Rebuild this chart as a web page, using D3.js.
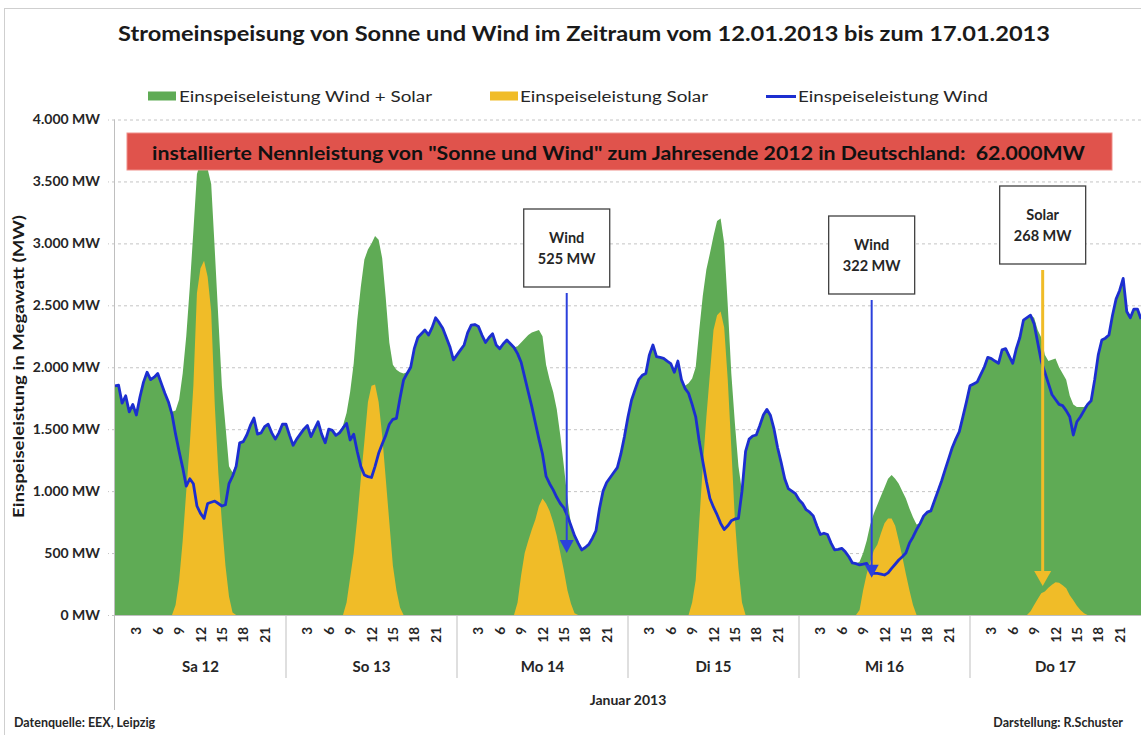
<!DOCTYPE html>
<html><head><meta charset="utf-8">
<script src="https://cdn.jsdelivr.net/npm/d3@7"></script>
<style>
body{margin:0;background:#fff;}
svg{display:block;font-family:Lato,"Open Sans",sans-serif;}
</style>
</head><body>
<svg id="chart" width="1141" height="735"></svg>
<script>
// ---- Data: half-hourly values, Sa 12.01.2013 00:00 .. Fr 18.01.2013 00:00 (289 points) ----
const wind = [
1850,1855,1710,1770,1640,1700,1615,1760,1880,1960,
1900,1920,1950,1870,1790,1720,1620,1460,1320,1190,
1040,1100,1060,880,820,780,900,910,920,900,
880,890,1060,1120,1200,1390,1400,1453,1530,1590,
1460,1470,1520,1540,1470,1420,1470,1540,1540,1450,
1370,1420,1460,1500,1530,1440,1500,1560,1460,1390,
1500,1490,1450,1470,1510,1547,1413,1460,1320,1200,
1130,1117,1110,1200,1305,1380,1450,1540,1580,1588,
1750,1897,1950,2000,2150,2240,2270,2301,2260,2320,
2400,2360,2314,2240,2166,2060,2100,2140,2180,2280,
2340,2345,2330,2260,2200,2240,2270,2180,2150,2190,
2220,2190,2160,2110,2040,1920,1800,1682,1550,1420,
1300,1120,1060,1010,950,900,865,800,720,640,
580,525,545,570,620,680,860,1000,1070,1110,
1150,1190,1300,1440,1600,1736,1820,1900,1935,1950,
2100,2180,2086,2080,2072,2050,2030,1960,2050,1900,
1830,1790,1700,1600,1400,1240,1080,940,870,810,
740,690,720,760,775,780,1000,1320,1420,1445,
1453,1530,1615,1660,1610,1500,1350,1230,1100,1020,
1000,980,930,900,850,830,800,720,650,660,
650,580,525,530,538,510,470,420,415,404,
410,417,360,336,336,330,323,340,377,410,
444,470,500,580,630,690,740,800,830,840,
920,1000,1080,1171,1260,1350,1420,1480,1600,1720,
1850,1865,1880,1940,2000,2080,2070,2050,2032,2140,
2150,2090,2032,2150,2240,2380,2400,2420,2350,2200,
2050,1960,1870,1780,1740,1700,1690,1650,1600,1453,
1560,1600,1650,1700,1730,1900,2100,2220,2235,2260,
2420,2550,2620,2718,2450,2400,2470,2470,2390
];
const solar = [
0,0,0,0,0,0,0,0,0,0,
0,0,0,0,0,0,0,80,280,600,
1000,1380,1850,2600,2800,2860,2730,2450,1700,1150,
750,400,150,20,0,0,0,0,0,0,
0,0,0,0,0,0,0,0,0,0,
0,0,0,0,0,0,0,0,0,0,
0,0,0,0,0,100,300,500,780,1100,
1400,1720,1850,1860,1720,1450,1100,750,400,200,
60,0,0,0,0,0,0,0,0,0,
0,0,0,0,0,0,0,0,0,0,
0,0,0,0,0,0,0,0,0,0,
0,0,0,100,320,500,600,690,770,880,
940,900,840,750,640,500,360,200,90,15,
0,0,0,0,0,0,0,0,0,0,
0,0,0,0,0,0,0,0,0,0,
0,0,0,0,0,0,0,0,0,0,
0,0,100,280,750,1200,1600,1950,2300,2420,
2450,2320,1900,1350,770,380,100,0,0,0,
0,0,0,0,0,0,0,0,0,0,
0,0,0,0,0,0,0,0,0,0,
0,0,0,0,0,0,0,0,0,40,
200,330,430,520,570,660,740,780,780,720,
600,470,330,200,80,0,0,0,0,0,
0,0,0,0,0,0,0,0,0,0,
0,0,0,0,0,0,0,0,0,0,
0,0,0,0,0,0,0,30,80,130,
175,190,220,245,265,260,240,215,160,120,
75,40,15,0,0,0,0,0,0,0,
0,0,0,0,0,0,0,0,0
];
const total = [
1850,1855,1710,1770,1640,1700,1615,1760,1880,1960,
1900,1920,1950,1870,1790,1720,1640,1650,1740,1950,
2250,2650,3100,3560,3650,3680,3600,3480,2950,2400,
1850,1530,1200,1150,1220,1390,1400,1453,1530,1590,
1460,1470,1520,1540,1470,1420,1470,1540,1540,1450,
1370,1420,1460,1500,1530,1440,1500,1560,1460,1390,
1500,1490,1450,1470,1530,1630,1800,2030,2380,2650,
2870,2950,3000,3060,3030,2880,2560,2200,2020,1980,
1960,1950,1960,2000,2150,2240,2270,2301,2260,2320,
2400,2360,2314,2240,2166,2060,2100,2140,2180,2280,
2340,2345,2330,2260,2200,2240,2270,2180,2150,2190,
2220,2190,2160,2170,2200,2230,2260,2280,2290,2300,
2250,2020,1900,1800,1660,1450,1200,940,730,640,
580,525,545,570,620,680,860,1000,1070,1110,
1150,1190,1300,1440,1600,1736,1820,1900,1935,1950,
2100,2180,2086,2080,2072,2050,2030,1960,2050,1900,
1850,1870,1910,2000,2300,2580,2790,2920,3060,3180,
3200,3000,2500,1950,1550,1200,1000,1320,1420,1445,
1453,1530,1615,1660,1610,1500,1350,1230,1100,1020,
1000,980,930,900,850,830,800,720,650,660,
650,580,525,530,538,510,470,420,415,430,
500,600,730,820,890,960,1030,1100,1130,1100,
1060,1000,940,860,790,730,740,800,830,840,
920,1000,1080,1171,1260,1350,1420,1480,1600,1720,
1850,1865,1880,1940,2000,2080,2070,2050,2032,2140,
2150,2090,2032,2150,2240,2380,2400,2420,2400,2300,
2240,2100,2050,2060,2070,2000,1950,1900,1770,1700,
1680,1680,1680,1710,1740,1900,2100,2220,2235,2260,
2420,2550,2620,2718,2450,2400,2470,2470,2390
];
const days = ["Sa 12","So 13","Mo 14","Di 15","Mi 16","Do 17"];
const hourTicks = [3,6,9,12,15,18,21];
const yTicks = [0,500,1000,1500,2000,2500,3000,3500,4000];
const seriesNames = ["Einspeiseleistung Wind + Solar","Einspeiseleistung Solar","Einspeiseleistung Wind"];
const annotations = [
  {lines:["Wind","525 MW"], hour:63.4, tip:500, top:209, kind:"wind"},
  {lines:["Wind","322 MW"], hour:106.2, tip:300, top:216, kind:"wind"},
  {lines:["Solar","268 MW"], hour:130.2, tip:235, top:186, kind:"solar"}
];
const titleText = "Stromeinspeisung von Sonne und Wind im Zeitraum vom 12.01.2013 bis zum 17.01.2013";
const bannerText = "installierte Nennleistung von \"Sonne und Wind\" zum Jahresende 2012 in Deutschland:  62.000MW";

// ---- Styles ----
const C = {green:"#5fab55", yellow:"#f0bc28", blue:"#1c2ed0", arrowBlue:"#2b40dc",
           grid:"#c4c4c4", axis:"#bfbfbf", text:"#262626", red:"#e0534c"};

const svg = d3.select("#chart");
const x = d3.scaleLinear().domain([0,144]).range([115,1141]);
const y = d3.scaleLinear().domain([0,4000]).range([615,119.5]);
const loc = d3.formatLocale({decimal:",", thousands:".", grouping:[3], currency:["","€"]});
const fmt = loc.format(",");

// outer frame
svg.append("rect").attr("x",4.5).attr("y",8.5).attr("width",1160).attr("height",780)
  .attr("fill","none").attr("stroke","#cfcfcf");

// title
svg.append("text").attr("x",118).attr("y",41).attr("textLength",932).attr("lengthAdjust","spacingAndGlyphs")
  .attr("font-size",20.5).attr("font-weight",700).attr("fill","#1a1a1a").text(titleText);

// legend
const lg = svg.append("g").attr("font-size",15.5).attr("fill",C.text);
lg.append("rect").attr("x",148).attr("y",91.5).attr("width",28).attr("height",9).attr("fill",C.green);
lg.append("text").attr("x",179).attr("y",101.5).attr("textLength",253).attr("lengthAdjust","spacingAndGlyphs").text(seriesNames[0]);
lg.append("rect").attr("x",490).attr("y",91.5).attr("width",28).attr("height",9).attr("fill",C.yellow);
lg.append("text").attr("x",520).attr("y",101.5).attr("textLength",188).attr("lengthAdjust","spacingAndGlyphs").text(seriesNames[1]);
lg.append("line").attr("x1",766).attr("x2",796).attr("y1",96.5).attr("y2",96.5).attr("stroke",C.blue).attr("stroke-width",3);
lg.append("text").attr("x",798).attr("y",101.5).attr("textLength",190).attr("lengthAdjust","spacingAndGlyphs").text(seriesNames[2]);

// gridlines
const grid = svg.append("g").attr("transform","translate(1141,0)")
  .call(d3.axisLeft(y).tickValues(yTicks).tickSize(1033).tickFormat(""));
grid.select(".domain").remove();
grid.selectAll("line").attr("stroke",C.grid).attr("stroke-dasharray","3,3");

// y labels
const yl = svg.append("g").attr("transform","translate(108,0)")
  .call(d3.axisLeft(y).tickValues(yTicks).tickSize(0).tickPadding(8).tickFormat(d => fmt(d)+" MW"));
yl.select(".domain").remove();
yl.selectAll("text").attr("font-family","Lato, sans-serif").attr("font-size",14).attr("font-weight",700).attr("fill",C.text);

// y-axis title
svg.append("text").attr("transform","translate(24,366.5) rotate(-90)").attr("text-anchor","middle")
  .attr("font-size",14.5).attr("font-weight",700).attr("fill","#1a1a1a")
  .attr("textLength",303).attr("lengthAdjust","spacingAndGlyphs")
  .text("Einspeiseleistung in Megawatt (MW)");

// areas
const xi = (d,i) => x(i/2);
const areaGen = d3.area().x(xi).y0(y(0)).y1(d=>y(d));
svg.append("path").datum(total).attr("d",areaGen).attr("fill",C.green);
svg.append("path").datum(solar).attr("d",areaGen).attr("fill",C.yellow);
const lineGen = d3.line().x(xi).y(d=>y(d));
svg.append("path").datum(wind).attr("d",lineGen).attr("fill","none")
  .attr("stroke",C.blue).attr("stroke-width",2.8).attr("stroke-linejoin","round");

// axes lines
svg.append("line").attr("x1",115).attr("x2",1141).attr("y1",615.5).attr("y2",615.5).attr("stroke",C.axis);
svg.append("line").attr("x1",114.5).attr("x2",114.5).attr("y1",119.5).attr("y2",710).attr("stroke",C.axis);
days.forEach((d,i)=>{
  if(i>0) svg.append("line").attr("x1",x(i*24)).attr("x2",x(i*24)).attr("y1",615).attr("y2",678).attr("stroke",C.axis);
  hourTicks.forEach(h=>{
    svg.append("text").attr("transform",`translate(${x(i*24+h)},627) rotate(-90)`)
      .attr("text-anchor","end").attr("dominant-baseline","central")
      .attr("font-size",13.5).attr("font-weight",700).attr("fill",C.text).text(h);
  });
  svg.append("text").attr("x",x(i*24+12)).attr("y",672).attr("text-anchor","middle")
    .attr("font-size",15).attr("font-weight",700).attr("fill",C.text).text(d);
});
svg.append("text").attr("x",628).attr("y",705).attr("text-anchor","middle")
  .attr("font-size",14).attr("font-weight",700).attr("fill",C.text).text("Januar 2013");

// banner
svg.append("rect").attr("x",127).attr("y",133).attr("width",985).attr("height",37)
  .attr("fill",C.red).attr("stroke","#ef8f89").attr("stroke-width",1);
svg.append("text").attr("x",152).attr("y",159.5).attr("textLength",933).attr("lengthAdjust","spacingAndGlyphs")
  .style("white-space","pre")
  .attr("font-size",18.5).attr("font-weight",700).attr("fill","#111").text(bannerText);

// annotations
annotations.forEach(a=>{
  const ax = x(a.hour);
  const col = a.kind==="wind" ? C.arrowBlue : C.yellow;
  const lw = a.kind==="wind" ? 2 : 3;
  const hw = a.kind==="wind" ? 7 : 8.5;
  const hh = a.kind==="wind" ? 13 : 15;
  const ty = y(a.tip);
  svg.append("rect").attr("x",ax-43).attr("y",a.top).attr("width",86).attr("height",78)
    .attr("fill","#fff").attr("stroke","#404040").attr("stroke-width",1.3);
  a.lines.forEach((t,j)=>{
    svg.append("text").attr("x",ax).attr("y",a.top+34+j*21).attr("text-anchor","middle")
      .attr("font-size",14.5).attr("font-weight",700).attr("fill",C.text).text(t);
  });
  svg.append("line").attr("x1",ax).attr("x2",ax).attr("y1",a.top+84).attr("y2",ty-hh+2)
    .attr("stroke",col).attr("stroke-width",lw);
  svg.append("path").attr("d",`M${ax},${ty} L${ax-hw},${ty-hh} L${ax+hw},${ty-hh} Z`).attr("fill",col);
});

// footer
svg.append("text").attr("x",14).attr("y",727).attr("font-size",12.5).attr("font-weight",700)
  .attr("fill",C.text).text("Datenquelle: EEX, Leipzig");
svg.append("text").attr("x",1123).attr("y",727).attr("text-anchor","end").attr("font-size",12.5).attr("font-weight",700)
  .attr("fill",C.text).text("Darstellung: R.Schuster");
</script>
</body></html>
